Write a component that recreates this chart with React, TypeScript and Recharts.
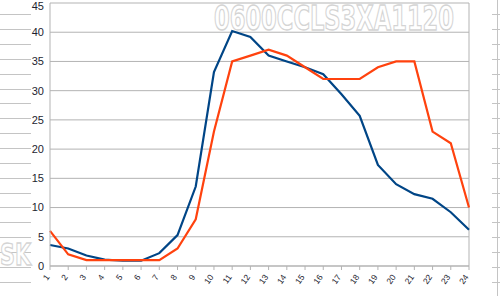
import { CartesianGrid, Line, LineChart, ReferenceLine, XAxis, YAxis } from 'recharts';

const hours = [1, 2, 3, 4, 5, 6, 7, 8, 9, 10, 11, 12, 13, 14, 15, 16, 17, 18, 19, 20, 21, 22, 23, 24];
const seriesBlue = [3.6, 3.0, 1.8, 1.1, 0.9, 0.9, 2.2, 5.3, 13.6, 33.2, 40.2, 39.2, 36.0, 35.0, 34.0, 32.8, 29.4, 25.7, 17.3, 14.0, 12.3, 11.5, 9.2, 6.2];
const seriesOrange = [6, 2, 1, 1, 1, 1, 1, 3, 8, 23, 35, 36, 37, 36, 34, 32, 32, 32, 34, 35, 35, 23, 21, 10];
const yTicks = [0, 5, 10, 15, 20, 25, 30, 35, 40, 45];
const watermark = '0600CCLS3XA1120';
const cornerMark = 'SK';

const rows = hours.map((hour, i) => ({ hour, blue: seriesBlue[i], orange: seriesOrange[i] }));

const GRID = '#b3b3b3';
const FONT = '"Liberation Sans", Arial, sans-serif';
const MARK_FONT = '"Liberation Sans Narrow", "DejaVu Sans Condensed", ' + FONT;

function XTick(props: any) {
  const { x, y, payload } = props;
  const ty = y + 5;
  return (
    <text x={x} y={ty} transform={`rotate(-55 ${x} ${ty})`} textAnchor="end" fontSize={8.5} fontFamily={FONT} fill="#1e1e30">
      {payload.value}
    </text>
  );
}

// ruler-like marks along the page edges
const rulerRows = Array.from({ length: 20 }, (_, i) => 14.3 + i * 14.85);

export default function App() {
  return (
    <div style={{ position: 'fixed', left: 0, top: 0, width: 500, height: 296, background: '#fff', overflow: 'hidden' }}>
      <svg width={500} height={296} style={{ position: 'absolute', left: 0, top: 0 }}>
        {rulerRows.map((ry) => (
          <g key={ry}>
            <line x1={0} x2={31} y1={Math.round(ry) + 0.5} y2={Math.round(ry) + 0.5} stroke="#c4c4c4" />
            <line x1={492} x2={500} y1={Math.round(ry) + 0.5} y2={Math.round(ry) + 0.5} stroke="#c4c4c4" />
          </g>
        ))}
        <line x1={497.5} x2={497.5} y1={0} y2={296} stroke="#c4c4c4" />
      </svg>
      <div style={{ position: 'absolute', left: 0, top: 0 }}>
        <LineChart width={500} height={296} data={rows} margin={{ top: 3, right: 31, bottom: 0, left: 0 }}>
          <CartesianGrid vertical={false} stroke={GRID} strokeOpacity={1} />
          <XAxis
            dataKey="hour"
            interval={0}
            height={30}
            tickSize={4}
            tickMargin={2}
            axisLine={{ stroke: GRID }}
            tickLine={{ stroke: GRID }}
            tick={<XTick />}
          />
          <YAxis
            type="number"
            domain={[0, 45]}
            ticks={yTicks}
            width={50}
            tickSize={0}
            tickMargin={6}
            axisLine={{ stroke: GRID }}
            tickLine={false}
            tick={{ fontSize: 11, fill: '#1e1e30', fontFamily: FONT }}
          />
          <ReferenceLine x={24} stroke={GRID} />
          <Line dataKey="blue" stroke="#004586" strokeWidth={2.2} dot={false} isAnimationActive={false} />
          <Line dataKey="orange" stroke="#ff420e" strokeWidth={2.2} dot={false} isAnimationActive={false} />
        </LineChart>
      </div>
      <svg width={500} height={296} style={{ position: 'absolute', left: 0, top: 0, pointerEvents: 'none' }}>
        <text
          x={214}
          y={29.5}
          fontSize={34}
          fontWeight="bold"
          fontFamily={MARK_FONT}
          textLength={240}
          lengthAdjust="spacingAndGlyphs"
          fill="#fff"
          stroke="#d4d4d4"
          strokeWidth={1.3}
        >
          {watermark}
        </text>
        <text
          x={0}
          y={265}
          fontSize={31}
          fontWeight="bold"
          fontFamily={MARK_FONT}
          textLength={31}
          lengthAdjust="spacingAndGlyphs"
          fill="#fff"
          stroke="#d4d4d4"
          strokeWidth={1.3}
        >
          {cornerMark}
        </text>
      </svg>
    </div>
  );
}
